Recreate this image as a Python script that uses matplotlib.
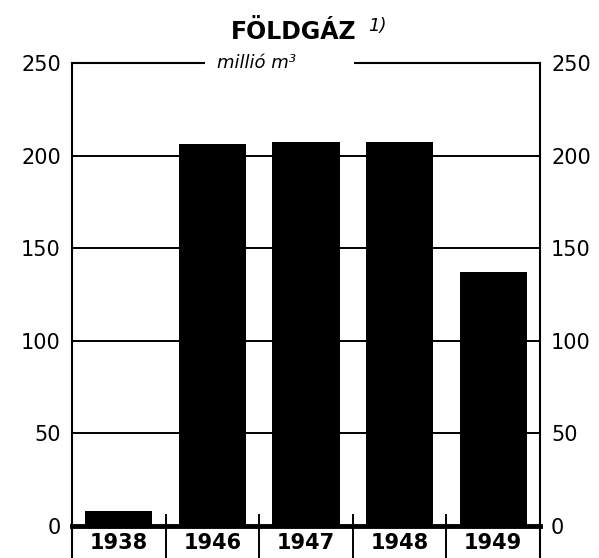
import matplotlib
matplotlib.use("Agg")
import matplotlib.pyplot as plt
from matplotlib.patches import Rectangle

years = ["1938", "1946", "1947", "1948", "1949"]
values = [8, 206, 207.5, 207.5, 137]
yticks = [0, 50, 100, 150, 200, 250]
title = "FÖLDGÁZ"
unit = "millió m³"

plt.rcParams['font.family'] = ['DejaVu Sans']

fig = plt.figure(figsize=(5.99, 5.58), dpi=100)
ax = fig.add_axes([72/599, 32/558, 468/599, 463/558])

x = list(range(len(years)))
ax.bar(x, values, width=0.72, color='black', zorder=3)

ax.set_xlim(-0.5, len(years) - 0.5)
ax.set_ylim(0, 250)
ax.set_yticks(yticks)
ax.set_yticklabels([str(v) for v in yticks], fontsize=15)
ax.tick_params(axis='y', length=0, pad=8, labelright=True, labelleft=True)
ax.set_xticks(x)
ax.set_xticklabels(years, fontsize=15, fontweight='bold')
ax.tick_params(axis='x', length=0, pad=5)

ax.yaxis.grid(True, color='black', linewidth=1.4, zorder=1)
ax.set_axisbelow(True)

for s in ['left', 'right', 'top']:
    ax.spines[s].set_linewidth(1.5)
ax.spines['bottom'].set_linewidth(3.5)

# dividers between year cells and extended side lines
for xi in [i + 0.5 for i in range(len(years) - 1)]:
    ax.plot([xi, xi], [6, -18], color='black', lw=1.4, clip_on=False, zorder=4)
for xi in [-0.5, len(years) - 0.5]:
    ax.plot([xi, xi], [0, -18], color='black', lw=1.5, clip_on=False, zorder=4)

# gap in the top line with the unit label
gap = Rectangle(((205 - 72) / 468, 0.985), (354 - 205) / 468, 0.03,
                transform=ax.transAxes, facecolor='white', edgecolor='none',
                clip_on=False, zorder=5)
ax.add_patch(gap)
ax.text((217 - 72) / 468, 1.0, unit, transform=ax.transAxes, ha='left', va='center',
        fontsize=13, style='italic', zorder=6)

# title
fig.text(0.49, 0.942, title, ha='center', va='center', fontsize=17, fontweight='bold')
fig.text(0.615, 0.953, "1)", ha='left', va='center', fontsize=13, style='italic')

fig.savefig("out.png", dpi=100)
